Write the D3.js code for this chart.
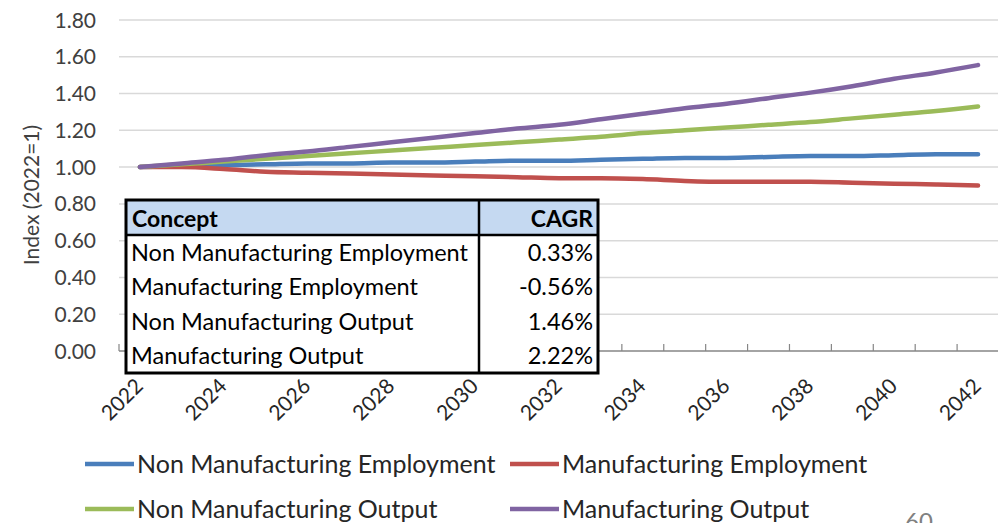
<!DOCTYPE html>
<html>
<head>
<meta charset="utf-8">
<script src="https://cdn.jsdelivr.net/npm/d3@7"></script>
<style>
  html, body { margin: 0; padding: 0; background: #fff; }
  svg { display: block; font-family: Lato, "Open Sans", sans-serif; }
</style>
</head>
<body>
<svg id="chart" width="998" height="523"></svg>
<script>
// Index series (2022 = 1)
const years = d3.range(2022, 2043);
const nonMfgEmployment = [1.000, 1.005, 1.010, 1.015, 1.020, 1.020, 1.025, 1.025, 1.030, 1.035, 1.035,
                          1.040, 1.045, 1.050, 1.050, 1.055, 1.060, 1.060, 1.065, 1.070, 1.070];
const mfgEmployment    = [1.000, 1.000, 0.990, 0.975, 0.970, 0.965, 0.960, 0.955, 0.950, 0.945, 0.940,
                          0.940, 0.935, 0.925, 0.920, 0.920, 0.920, 0.915, 0.910, 0.905, 0.900];
const nonMfgOutput     = [1.000, 1.015, 1.030, 1.045, 1.060, 1.075, 1.090, 1.105, 1.120, 1.135, 1.150,
                          1.165, 1.185, 1.200, 1.215, 1.230, 1.245, 1.265, 1.285, 1.305, 1.330];
const mfgOutput        = [1.000, 1.020, 1.040, 1.065, 1.085, 1.110, 1.135, 1.160, 1.185, 1.210, 1.230,
                          1.260, 1.290, 1.320, 1.345, 1.375, 1.405, 1.440, 1.480, 1.515, 1.555];

const seriesNames  = ["Non Manufacturing Employment", "Manufacturing Employment",
                      "Non Manufacturing Output", "Manufacturing Output"];
const seriesValues = [nonMfgEmployment, mfgEmployment, nonMfgOutput, mfgOutput];
const seriesColors = ["#4a7ebb", "#c0504d", "#9bbb59", "#8064a2"];

const yTicks = [0, 0.2, 0.4, 0.6, 0.8, 1.0, 1.2, 1.4, 1.6, 1.8];
const xLabelYears = d3.range(2022, 2043, 2);

// CAGR summary table
const tableHeader = ["Concept", "CAGR"];
const tableConcepts = seriesNames;
const tableCagr = ["0.33%", "-0.56%", "1.46%", "2.22%"];

const svg = d3.select("#chart");

const x = d3.scaleBand().domain(years).range([119, 999]).paddingInner(0).paddingOuter(0);
const y = d3.scaleLinear().domain([0, 1.8]).range([351, 20]);
const cx = yr => x(yr) + x.bandwidth() / 2;

// Horizontal gridlines
svg.append("g")
  .selectAll("line")
  .data(yTicks.filter(t => t > 0))
  .join("line")
  .attr("x1", 119).attr("x2", 998)
  .attr("y1", d => y(d)).attr("y2", d => y(d))
  .attr("stroke", "#d9d9d9").attr("stroke-width", 1.5);

// Y axis labels
svg.append("g")
  .selectAll("text")
  .data(yTicks)
  .join("text")
  .attr("x", 96)
  .attr("y", d => y(d))
  .attr("dy", "0.36em")
  .attr("text-anchor", "end")
  .attr("font-size", 21)
  .attr("fill", "#404040")
  .text(d => d3.format(".2f")(d));

// Y axis title
svg.append("text")
  .attr("transform", "translate(39,195) rotate(-90)")
  .attr("text-anchor", "middle")
  .attr("font-size", 21)
  .attr("fill", "#404040")
  .text("Index (2022=1)");

// X axis baseline with inward ticks at category boundaries
const xAxis = svg.append("g");
xAxis.append("line")
  .attr("x1", 119).attr("x2", 998)
  .attr("y1", y(0)).attr("y2", y(0))
  .attr("stroke", "#868686").attr("stroke-width", 1.5);
xAxis.selectAll("line.tick")
  .data(years)
  .join("line")
  .attr("class", "tick")
  .attr("x1", d => x(d))
  .attr("x2", d => x(d))
  .attr("y1", y(0)).attr("y2", y(0) - 7)
  .attr("stroke", "#868686").attr("stroke-width", 1.2);

// X axis labels, rotated
svg.append("g")
  .selectAll("text")
  .data(xLabelYears)
  .join("text")
  .attr("transform", d => `translate(${cx(d) - 6},${y(0) + 26}) rotate(-45)`)
  .attr("text-anchor", "end")
  .attr("dy", "0.7em")
  .attr("font-size", 21)
  .attr("fill", "#262626")
  .text(d => d);

// Series lines
const line = d3.line()
  .x((d, i) => cx(years[i]))
  .y(d => y(d))
  .curve(d3.curveMonotoneX);

svg.append("g")
  .selectAll("path")
  .data(seriesValues)
  .join("path")
  .attr("d", d => line(d))
  .attr("fill", "none")
  .attr("stroke", (d, i) => seriesColors[i])
  .attr("stroke-width", 4.5)
  .attr("stroke-linecap", "round")
  .attr("stroke-linejoin", "round");

// CAGR table
const tbl = svg.append("g");
const tLeft = 126, tRight = 598, tDiv = 479, tTop = 200, tHead = 235, tBottom = 373;
const rowH = (tBottom - tHead) / tableConcepts.length;

tbl.append("rect")
  .attr("x", tLeft).attr("y", tTop)
  .attr("width", tRight - tLeft).attr("height", tBottom - tTop)
  .attr("fill", "#fff");
tbl.append("rect")
  .attr("x", tLeft).attr("y", tTop)
  .attr("width", tRight - tLeft).attr("height", tHead - tTop)
  .attr("fill", "#c5d9f1");
tbl.append("line")
  .attr("x1", tLeft).attr("x2", tRight).attr("y1", tHead).attr("y2", tHead)
  .attr("stroke", "#000").attr("stroke-width", 2.5);
tbl.append("line")
  .attr("x1", tDiv).attr("x2", tDiv).attr("y1", tTop).attr("y2", tBottom)
  .attr("stroke", "#000").attr("stroke-width", 2.5);
tbl.append("rect")
  .attr("x", tLeft).attr("y", tTop)
  .attr("width", tRight - tLeft).attr("height", tBottom - tTop)
  .attr("fill", "none").attr("stroke", "#000").attr("stroke-width", 3);

tbl.append("text")
  .attr("x", tLeft + 6).attr("y", tTop + 27)
  .attr("font-size", 23).attr("font-weight", "bold").attr("fill", "#000")
  .text(tableHeader[0]);
tbl.append("text")
  .attr("x", tRight - 5).attr("y", tTop + 27)
  .attr("text-anchor", "end")
  .attr("font-size", 23).attr("font-weight", "bold").attr("fill", "#000")
  .text(tableHeader[1]);

tbl.selectAll("text.concept")
  .data(tableConcepts)
  .join("text")
  .attr("class", "concept")
  .attr("x", tLeft + 5)
  .attr("y", (d, i) => tHead + rowH * i + rowH / 2)
  .attr("dy", "0.36em")
  .attr("font-size", 23.5).attr("fill", "#000")
  .text(d => d);
tbl.selectAll("text.cagr")
  .data(tableCagr)
  .join("text")
  .attr("class", "cagr")
  .attr("x", tRight - 5)
  .attr("y", (d, i) => tHead + rowH * i + rowH / 2)
  .attr("dy", "0.36em")
  .attr("text-anchor", "end")
  .attr("font-size", 23.5).attr("fill", "#000")
  .text(d => d);

// Legend (two columns, two rows)
const legendPos = [[85, 464], [510, 464], [85, 509], [510, 509]];
const lg = svg.append("g")
  .selectAll("g")
  .data(seriesNames)
  .join("g")
  .attr("transform", (d, i) => `translate(${legendPos[i][0]},${legendPos[i][1]})`);
lg.append("line")
  .attr("x1", 0).attr("x2", 49)
  .attr("stroke", (d, i) => seriesColors[i])
  .attr("stroke-width", 4.5);
lg.append("text")
  .attr("x", 52)
  .attr("dy", "0.36em")
  .attr("font-size", 25)
  .attr("fill", "#262626")
  .text(d => d);

// Page number
svg.append("text")
  .attr("x", 905).attr("y", 530)
  .attr("font-size", 24)
  .attr("fill", "#808080")
  .text("60");
</script>
</body>
</html>
